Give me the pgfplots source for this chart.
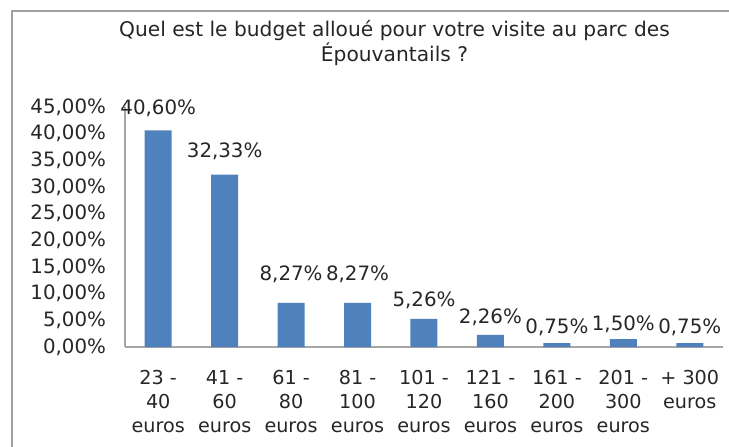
\documentclass[border=0pt]{standalone}
\usepackage{fontspec}
\setmainfont{DejaVu Sans}
\usepackage{pgfplots}
\usepackage{pgfplotstable}
\pgfplotsset{compat=1.18}
\definecolor{barblue}{HTML}{4F81BD}
\definecolor{axisgrey}{HTML}{A6A6A6}
\definecolor{framegrey}{HTML}{A0A0A0}
\definecolor{txt}{HTML}{262626}

% x: category index, y: share (%), off: label lift (pt)
\pgfplotstableread{
x y off
0 40.60 3.5
1 32.33 4
2 8.27 6.5
3 8.27 6.5
4 5.26 1.5
5 2.26 1
6 0.75 0
7 1.50 -0.5
8 0.75 0
}\budget

\begin{document}
\begin{tikzpicture}
% 1 px of the reference = 0.5pt
\useasboundingbox (-62.5pt,-49.5pt) rectangle (302pt,173.5pt);
\draw[framegrey, line width=0.8pt] (-56.5pt,-60pt) -- (-56.5pt,168pt) -- (310pt,168pt);
\begin{axis}[
    scale only axis,
    width=299pt, height=120pt,
    xmin=-0.5, xmax=8.5,
    ymin=0, ymax=45,
    ybar, bar width=13.5pt,
    axis x line*=bottom, axis y line*=left,
    axis line style={axisgrey, line width=0.6pt, -},
    major tick length=0pt,
    xtick={0,...,8},
    xticklabels={{23 -\\40\\euros},{41 -\\60\\euros},{61 -\\80\\euros},{81 -\\100\\euros},
        {101 -\\120\\euros},{121 -\\160\\euros},{161 -\\200\\euros},{201 -\\300\\euros},{+ 300\\euros}},
    xticklabel style={align=center, font=\fontsize{9.6}{12}\selectfont, text=txt, anchor=north, yshift=-8pt},
    ytick={0,5,...,45},
    yticklabel={\pgfmathprintnumber[fixed,fixed zerofill,precision=2,use comma]{\tick}\%},
    yticklabel style={font=\fontsize{9.9}{11.5}\selectfont, text=txt, xshift=-6pt},
    /pgf/number format/assume math mode=true,
    visualization depends on={\thisrow{off} \as \labeloff},
    nodes near coords={\pgfmathprintnumber[fixed,fixed zerofill,precision=2,use comma]{\pgfplotspointmeta}\%},
    nodes near coords style={font=\fontsize{9.9}{11.5}\selectfont, text=txt, anchor=south, yshift=\labeloff pt},
    clip=false,
]
\addplot[fill=barblue, draw=none] table[x=x, y=y] {\budget};
\end{axis}
\node[font=\fontsize{10.1}{12.5}\selectfont, text=txt, align=center] at (134.75pt,152pt)
    {Quel est le budget alloué pour votre visite au parc des\\Épouvantails ?};
\end{tikzpicture}
\end{document}
